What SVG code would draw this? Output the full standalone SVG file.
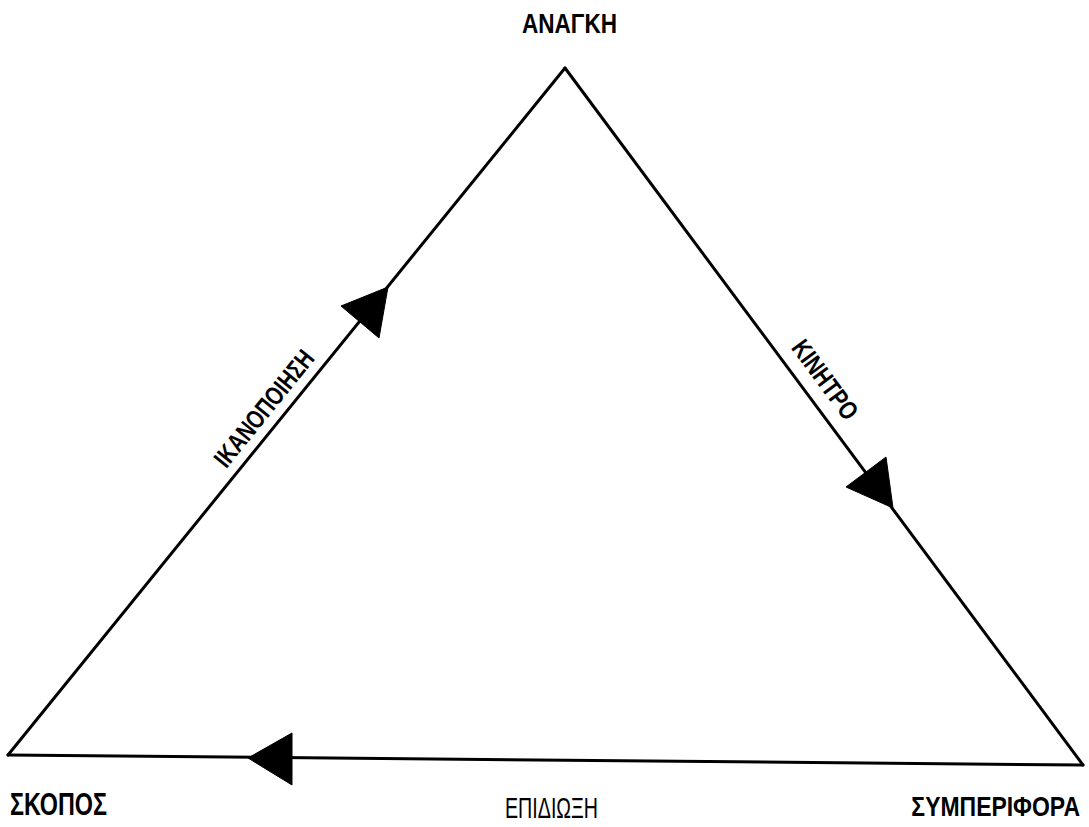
<svg xmlns="http://www.w3.org/2000/svg" width="1089" height="827" viewBox="0 0 1089 827">
  <style>
    .edge { stroke: #000; stroke-width: 3; fill: none; stroke-linecap: round; }
    .head { fill: #000; stroke: #000; stroke-width: 1; stroke-linejoin: round; }
    .lbl { font-family: "Liberation Sans", "DejaVu Sans", sans-serif; font-weight: bold; fill: #000; }
    .thin { font-weight: normal; }
  </style>
  <rect width="1089" height="827" fill="#fff"/>
  <g id="connectors">
    <line class="edge" x1="8" y1="755" x2="565" y2="68"/>
    <line class="edge" x1="565" y1="68" x2="1083" y2="765"/>
    <line class="edge" x1="1083" y1="765" x2="8" y2="755"/>
    <polygon class="head" points="388,287 379,338 341,306"/>
    <polygon class="head" points="893,508 846,487 886,457"/>
    <polygon class="head" points="248,758 292,733 292,785"/>
    <text class="lbl" transform="translate(271,414) rotate(-51)" text-anchor="middle" font-size="26" textLength="142" lengthAdjust="spacingAndGlyphs">ΙΚΑΝΟΠΟΙΗΣΗ</text>
    <text class="lbl" transform="translate(818,385) rotate(53.4)" text-anchor="middle" font-size="26" textLength="92" lengthAdjust="spacingAndGlyphs">ΚΙΝΗΤΡΟ</text>
    <text class="lbl thin" x="505" y="818" font-size="29" textLength="93" lengthAdjust="spacingAndGlyphs">ΕΠΙΔΙΩΞΗ</text>
  </g>
  <g id="node-anagki">
    <text class="lbl" x="522" y="33" font-size="28" textLength="95" lengthAdjust="spacingAndGlyphs">ΑΝΑΓΚΗ</text>
  </g>
  <g id="node-skopos">
    <text class="lbl" x="10" y="815" font-size="31" textLength="97" lengthAdjust="spacingAndGlyphs">ΣΚΟΠΟΣ</text>
  </g>
  <g id="node-symperifora">
    <text class="lbl" transform="translate(1080,816) scale(0.82,1)" font-size="28" text-anchor="end">ΣΥΜΠΕΡΙΦΟΡΑ</text>
  </g>
</svg>
